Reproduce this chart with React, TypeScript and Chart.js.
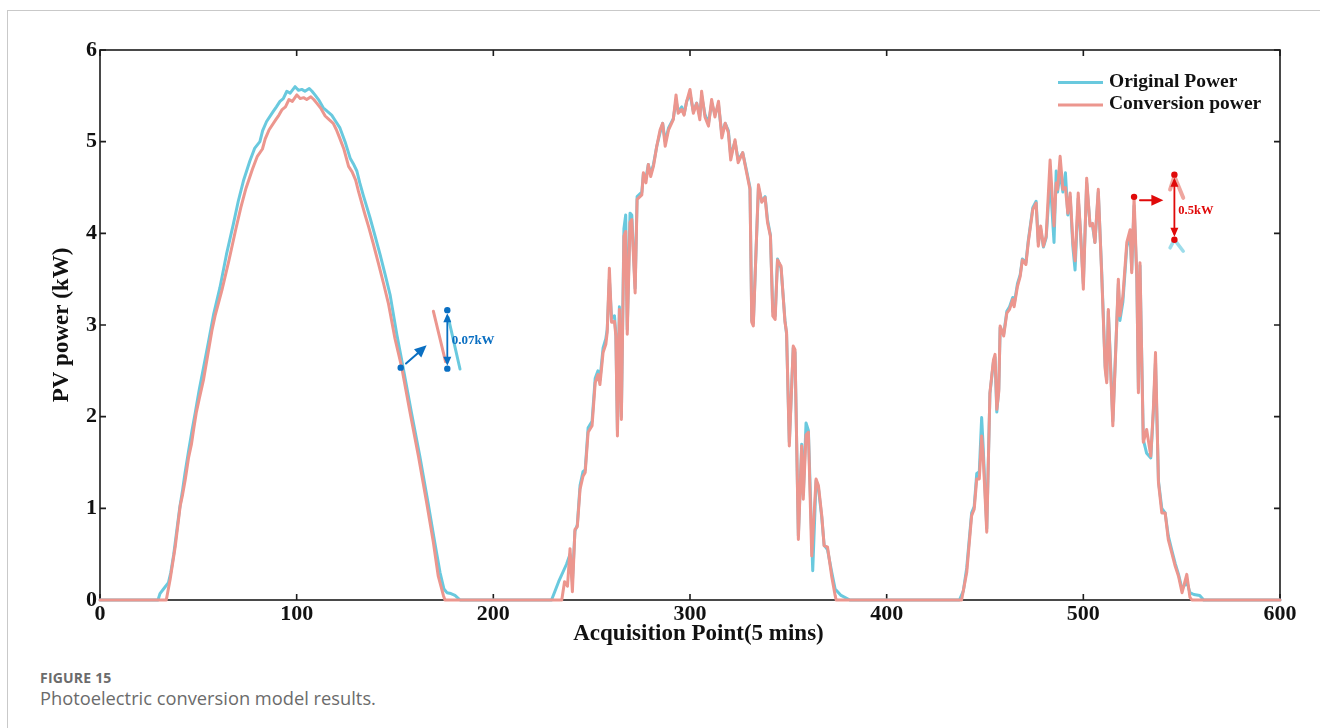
import React, { useEffect, useRef } from "react";
import { Chart, registerables } from "chart.js";

Chart.register(...registerables);

// ---------- data ----------
const xTickValues = [0, 100, 200, 300, 400, 500, 600];
const yTickValues = [0, 1, 2, 3, 4, 5, 6];

const originalX = [
  0, 29.5, 30.5, 32.3, 34.8, 36, 37.5, 39, 40.5, 42, 43.2, 45, 46.8, 48.5, 50.5, 52.5, 55.1, 57.8, 61, 64.3, 67.8, 70.3, 72.9, 76.2, 78.7, 81.3, 82.7, 84.7, 88.1, 89.7, 91.5, 93.2, 95, 96.7, 99.2, 100.9, 102.6, 104.2, 106.4, 107.8, 109.3, 111.4, 113.5, 115.6, 117.8, 119.9, 122, 124.6, 127.2, 128.8, 130.6, 132.1, 133.8, 135.5, 137.3, 139.5, 142.4, 145, 147.5, 150.9, 154.1, 158.4, 162.6, 166.8, 170.2, 172.9, 174.9, 176.4, 178.4, 180.5, 183.1,
  229.6, 233.2, 237.2, 239, 240.2, 241.5, 242.7, 244.1, 245.6, 246.7, 248.2, 250.2, 251.8, 253.2, 254.2, 255.8, 257.2, 257.9, 259, 260.1, 261.6, 262.3, 263.1, 264.1, 265.1, 266.4, 267.3, 268.1, 269.5, 270.4, 272.1, 273.1, 275.5, 276.3, 277.6, 278.8, 280, 281.4, 283.1, 284.8, 286.1, 287.4, 289.1, 291.5, 292.9, 294, 295.8, 297, 298.3, 300, 301.7, 303.4, 305, 305.9, 307.6, 309.4, 311, 312.7, 314.5, 316.2, 317.9, 319.5, 320.7, 322.9, 324.5, 326.8, 328.8, 330.5, 331.4, 332.2, 334.8, 336.5, 338.2, 339.4, 340.9, 342.1, 343.3, 344.5, 346.3, 348.3, 349.1, 350.5, 352.5, 353.4, 355.1, 356.8, 357.6, 359, 360.2, 362.4, 364.1, 365.3, 367, 368.2, 369.9, 372.1, 373.8, 376.8, 381.3,
  437, 439, 440.7, 443.2, 444.5, 445.8, 447.1, 448.3, 449, 450.9, 452.5, 454.3, 455.1, 456, 457, 457.7, 459.5, 461.1, 462.5, 464.1, 464.8, 466.5, 467.9, 469, 470.8, 472, 474.3, 476, 477.1, 478.3, 479.7, 481.1, 483.1, 485.1, 486.2, 486.9, 488.2, 489.6, 490.9, 492.1, 493.3, 494.7, 495.8, 497.4, 498.6, 500, 501.7, 503.4, 504.7, 505.9, 507.6, 509.3, 511.1, 511.9, 512.7, 513.8, 515, 516.3, 517.8, 518.6, 520.1, 522.1, 523.8, 524.6, 525.8, 527.2, 528, 528.8, 529.7, 530.5, 532.2, 534.3, 535.6, 536.7, 538.2, 539.9, 541.6, 543.2, 544.9, 546.7, 548.4, 550.2, 552.6, 554.2, 556.2, 559.2, 561.2, 600,
];
const originalY = [
  0, 0, 0.07, 0.12, 0.19, 0.3, 0.5, 0.75, 1.0, 1.2, 1.38, 1.62, 1.85, 2.05, 2.3, 2.52, 2.81, 3.12, 3.41, 3.77, 4.1, 4.35, 4.57, 4.79, 4.93, 5.0, 5.12, 5.22, 5.33, 5.38, 5.44, 5.47, 5.55, 5.53, 5.6, 5.56, 5.57, 5.55, 5.58, 5.55, 5.51, 5.45, 5.37, 5.33, 5.29, 5.22, 5.15, 5.0, 4.82, 4.76, 4.68, 4.55, 4.42, 4.3, 4.17, 4.0, 3.77, 3.55, 3.33, 2.9, 2.54, 2.04, 1.57, 1.06, 0.63, 0.3, 0.12, 0.08, 0.07, 0.05, 0,
  0, 0.2, 0.39, 0.5, 0.2, 0.75, 0.82, 1.25, 1.4, 1.42, 1.88, 1.95, 2.42, 2.5, 2.4, 2.75, 2.85, 2.95, 3.5, 3.08, 3.1, 2.9, 1.85, 3.2, 2.0, 4.05, 4.2, 2.95, 4.22, 4.2, 3.4, 4.4, 4.45, 4.65, 4.6, 4.75, 4.65, 4.75, 4.95, 5.1, 5.2, 5.0, 5.15, 5.25, 5.45, 5.33, 5.38, 5.3, 5.44, 5.52, 5.33, 5.42, 5.28, 5.5, 5.3, 5.2, 5.42, 5.3, 5.4, 5.08, 5.2, 5.12, 4.85, 5.0, 4.8, 4.88, 4.68, 4.5, 3.05, 3.02, 4.5, 4.35, 4.4, 4.15, 3.98, 3.15, 3.1, 3.72, 3.62, 3.05, 2.9, 1.72, 2.75, 2.7, 0.7, 1.7, 1.15, 1.93, 1.85, 0.32, 1.3, 1.22, 0.9, 0.6, 0.55, 0.3, 0.12, 0.05, 0,
  0, 0.1, 0.35, 0.95, 1.02, 1.38, 1.4, 1.99, 1.7, 0.78, 2.25, 2.6, 2.65, 2.05, 2.3, 2.97, 2.9, 3.15, 3.2, 3.3, 3.22, 3.45, 3.55, 3.72, 3.68, 3.92, 4.28, 4.35, 3.9, 4.05, 3.85, 3.95, 4.6, 3.9, 4.68, 4.45, 4.66, 4.45, 4.66, 4.2, 4.4, 3.85, 3.6, 4.38, 4.0, 3.45, 4.55, 4.1, 4.08, 3.9, 4.45, 3.6, 2.55, 2.4, 3.15, 2.6, 1.95, 2.65, 3.45, 3.05, 3.25, 3.85, 4.0, 3.6, 4.3, 3.5, 2.3, 3.65, 2.65, 1.75, 1.6, 1.55, 2.05, 2.6, 1.3, 1.0, 0.95, 0.7, 0.55, 0.4, 0.28, 0.12, 0.2, 0.08, 0.06, 0.05, 0, 0,
];

const conversionX = [
  0, 33.7, 35.7, 38.3, 39.5, 40.8, 42, 43.4, 45, 46.5, 47.6, 49, 50.5, 52.7, 55, 57, 58.5, 62, 65.5, 69.1, 71.6, 74.2, 77.5, 80, 82.6, 84, 86, 89.4, 91, 92.6, 94.3, 96.1, 97.8, 100.1, 101.8, 103.5, 105.1, 107.2, 108.7, 110.2, 112.4, 114.5, 116.5, 118.6, 120.2, 121.7, 124, 126.4, 128.2, 130, 131.4, 133.1, 134.8, 136.6, 138.8, 141.6, 144.2, 146.7, 150, 153.4, 157.7, 161.9, 166.1, 169.5, 172, 174.6, 175.4,
  229.2, 234.8, 236.2, 237.7, 239, 240.2, 241.5, 242.7, 244.1, 245.6, 246.7, 248.2, 250.2, 251.8, 253.2, 254.2, 255.8, 257.2, 257.9, 259, 260.1, 261.6, 262.3, 263.1, 264.1, 265.1, 266.4, 267.3, 268.1, 269.5, 270.4, 272.1, 273.1, 275.5, 276.3, 277.6, 278.8, 280, 281.4, 283.1, 284.8, 286.1, 287.4, 289.1, 291.5, 292.9, 294, 295.8, 297, 298.3, 300, 301.7, 303.4, 305, 305.9, 307.6, 309.4, 311, 312.7, 314.5, 316.2, 317.9, 319.5, 320.7, 322.9, 324.5, 326.8, 328.8, 330.5, 331.4, 332.2, 334.8, 336.5, 338.2, 339.4, 340.9, 342.1, 343.3, 344.5, 346.3, 348.3, 349.1, 350.5, 352.5, 353.4, 355.1, 356.8, 357.6, 359, 360.2, 361.9, 364.1, 365.3, 367, 368.2, 369.9, 372.1, 373.8, 374.3,
  438.1, 440.7, 443.2, 444.5, 445.8, 447.1, 448.3, 449, 450.9, 452.5, 454.3, 455.1, 456, 457, 457.7, 459.5, 461.1, 462.5, 464.1, 464.8, 466.5, 467.9, 469, 470.8, 472, 474.3, 476, 477.1, 478.3, 479.7, 481.1, 483.1, 485.1, 486.2, 486.9, 488.2, 489.6, 490.9, 492.1, 493.3, 494.7, 495.8, 497.4, 498.6, 500, 501.7, 503.4, 504.7, 505.9, 507.6, 509.3, 511.1, 511.9, 512.7, 513.8, 515, 516.3, 517.8, 518.6, 520.1, 522.1, 523.8, 524.6, 525.8, 527.2, 528, 528.8, 529.7, 530.5, 532.2, 534.3, 535.6, 536.7, 538.2, 539.9, 541.6, 543.2, 544.9, 546.7, 548.4, 550.2, 552.6, 554.2, 555.2, 600,
];
const conversionY = [
  0, 0, 0.23, 0.59, 0.8, 1.03, 1.15, 1.32, 1.55, 1.7, 1.86, 2.05, 2.2, 2.41, 2.7, 2.95, 3.1, 3.38, 3.7, 4.05, 4.28, 4.49, 4.7, 4.84, 4.92, 5.03, 5.13, 5.24, 5.29, 5.35, 5.38, 5.46, 5.44, 5.51, 5.47, 5.48, 5.46, 5.49, 5.46, 5.42, 5.36, 5.28, 5.24, 5.2, 5.13, 5.05, 4.92, 4.73, 4.67, 4.58, 4.46, 4.33, 4.2, 4.07, 3.9, 3.67, 3.45, 3.23, 2.85, 2.54, 2.04, 1.57, 1.06, 0.63, 0.26, 0.05, 0,
  0, 0, 0.2, 0.15, 0.56, 0.09, 0.77, 0.8, 1.21, 1.35, 1.39, 1.83, 1.9, 2.37, 2.46, 2.35, 2.7, 2.79, 2.92, 3.62, 3.03, 3.04, 2.88, 1.79, 3.17, 1.97, 3.97, 4.02, 2.9, 4.12, 4.15, 3.35, 4.37, 4.42, 4.66, 4.55, 4.75, 4.62, 4.73, 4.95, 5.13, 5.2, 4.95, 5.13, 5.24, 5.51, 5.31, 5.35, 5.29, 5.44, 5.57, 5.31, 5.42, 5.24, 5.55, 5.27, 5.17, 5.46, 5.27, 5.44, 5.04, 5.2, 5.1, 4.8, 5.02, 4.77, 4.88, 4.66, 4.48, 3.03, 2.99, 4.53, 4.34, 4.39, 4.12, 3.97, 3.1, 3.06, 3.71, 3.64, 3.03, 2.92, 1.68, 2.77, 2.73, 0.66, 1.68, 1.1, 1.8, 1.83, 0.48, 1.32, 1.25, 0.92, 0.59, 0.58, 0.25, 0.05, 0,
  0, 0.3, 0.92, 0.99, 1.32, 1.32, 1.79, 1.6, 0.74, 2.26, 2.62, 2.68, 2.08, 2.27, 2.99, 2.88, 3.13, 3.17, 3.28, 3.2, 3.42, 3.53, 3.71, 3.66, 3.9, 4.26, 4.33, 3.86, 4.08, 3.86, 3.97, 4.8, 4.08, 4.55, 4.48, 4.84, 4.48, 4.5, 4.22, 4.44, 3.9, 3.7, 4.44, 4.0, 3.39, 4.6, 4.08, 4.11, 3.9, 4.48, 3.57, 2.52, 2.37, 3.17, 2.55, 1.9, 2.62, 3.5, 3.1, 3.31, 3.9, 4.04, 3.57, 4.39, 3.53, 2.26, 3.68, 2.62, 1.72, 1.86, 1.57, 2.08, 2.7, 1.28, 0.95, 0.95, 0.66, 0.52, 0.37, 0.26, 0.08, 0.28, 0.03, 0, 0,
];

const seriesNames = ["Original Power", "Conversion power"];
const xAxisTitle = "Acquisition Point(5 mins)";
const yAxisTitle = "PV power (kW)";

// annotation marks, in data units
const blueNoteDot = [152.9, 2.535];
const blueNoteArrow = [[155.6, 2.58], [166.1, 2.778]];
const blueNoteRedSeg = [[169.5, 3.151], [175.7, 2.6]];
const blueNoteBlueSeg = [[177.1, 3.08], [183.05, 2.52]];
const blueNoteGap = [176.6, 3.162, 2.524];
const blueNoteLabel = ["0.07kW", 178.8, 2.825];

const redNoteDot = [525.8, 4.398];
const redNoteArrow = [[528.8, 4.36], [540.7, 4.36]];
const redNoteRedV = [[544.1, 4.478], [546.3, 4.623], [550.8, 4.387]];
const redNoteBlueV = [[544.1, 3.842], [546.3, 3.932], [550.8, 3.805]];
const redNoteGap = [546.3, 4.64, 3.93];
const redNoteLabel = ["0.5kW", 548.3, 4.25];

// ---------- styles ----------
const BLUE = "#69c9de";
const RED = "#ec968e";
const SERIF = '"Liberation Serif", "Times New Roman", serif';
const INK = "#111111";

function pt(chart: any, p: number[]) {
  return [chart.scales.x.getPixelForValue(p[0]), chart.scales.y.getPixelForValue(p[1])];
}

function arrowHead(ctx: CanvasRenderingContext2D, x0: number, y0: number, x1: number, y1: number, len: number, wid: number) {
  const a = Math.atan2(y1 - y0, x1 - x0);
  const c = Math.cos(a), s = Math.sin(a);
  ctx.beginPath();
  ctx.moveTo(x1, y1);
  ctx.lineTo(x1 - len * c + (wid / 2) * s, y1 - len * s - (wid / 2) * c);
  ctx.lineTo(x1 - len * c - (wid / 2) * s, y1 - len * s + (wid / 2) * c);
  ctx.closePath();
  ctx.fill();
}

function arrow(ctx: CanvasRenderingContext2D, p0: number[], p1: number[], color: string, len = 11, wid = 9) {
  const a = Math.atan2(p1[1] - p0[1], p1[0] - p0[0]);
  ctx.strokeStyle = color;
  ctx.fillStyle = color;
  ctx.lineWidth = 2;
  ctx.beginPath();
  ctx.moveTo(p0[0], p0[1]);
  ctx.lineTo(p1[0] - len * 0.7 * Math.cos(a), p1[1] - len * 0.7 * Math.sin(a));
  ctx.stroke();
  arrowHead(ctx, p0[0], p0[1], p1[0], p1[1], len, wid);
}

function dot(ctx: CanvasRenderingContext2D, p: number[], color: string, r = 3.2) {
  ctx.fillStyle = color;
  ctx.beginPath();
  ctx.arc(p[0], p[1], r, 0, Math.PI * 2);
  ctx.fill();
}

function gapArrow(ctx: CanvasRenderingContext2D, chart: any, gap: number[], color: string) {
  const top = pt(chart, [gap[0], gap[1]]);
  const bot = pt(chart, [gap[0], gap[2]]);
  ctx.strokeStyle = color;
  ctx.fillStyle = color;
  ctx.lineWidth = 1.8;
  ctx.beginPath();
  ctx.moveTo(top[0], top[1] + 6);
  ctx.lineTo(bot[0], bot[1] - 6);
  ctx.stroke();
  arrowHead(ctx, bot[0], bot[1], top[0], top[1] + 3, 9, 8);
  arrowHead(ctx, top[0], top[1], bot[0], bot[1] - 3, 9, 8);
  dot(ctx, top, color);
  dot(ctx, bot, color);
}

function polyline(ctx: CanvasRenderingContext2D, pts: number[][], color: string, width: number) {
  ctx.strokeStyle = color;
  ctx.lineWidth = width;
  ctx.lineCap = "round";
  ctx.lineJoin = "round";
  ctx.beginPath();
  pts.forEach((p, i) => (i === 0 ? ctx.moveTo(p[0], p[1]) : ctx.lineTo(p[0], p[1])));
  ctx.stroke();
}

const framePlugin = {
  id: "frameTicks",
  beforeDatasetsDraw(chart: any) {
    const { ctx, chartArea } = chart;
    const { left, right, top, bottom } = chartArea;
    const xs = chart.scales.x;
    const ys = chart.scales.y;
    ctx.save();
    ctx.strokeStyle = "#1c1c1c";
    ctx.lineWidth = 1.6;
    ctx.strokeRect(left, top, right - left, bottom - top);
    ctx.beginPath();
    const tl = 6;
    xTickValues.forEach((v) => {
      const px = xs.getPixelForValue(v);
      ctx.moveTo(px, bottom);
      ctx.lineTo(px, bottom - tl);
      ctx.moveTo(px, top);
      ctx.lineTo(px, top + tl);
    });
    yTickValues.forEach((v) => {
      const py = ys.getPixelForValue(v);
      ctx.moveTo(left, py);
      ctx.lineTo(left + tl, py);
      ctx.moveTo(right, py);
      ctx.lineTo(right - tl, py);
    });
    ctx.stroke();

    // x-axis title (centred as in the reference)
    ctx.fillStyle = INK;
    ctx.font = `bold 23px ${SERIF}`;
    ctx.textAlign = "center";
    ctx.textBaseline = "middle";
    ctx.fillText(xAxisTitle, 698.5, 634);
    ctx.restore();
  },
  afterDatasetsDraw(chart: any) {
    const { ctx } = chart;
    ctx.save();
    // legend (inside the plot, top right)
    const lx0 = 1058, lx1 = 1103;
    const rows = [
      { y: 82.5, color: BLUE, text: seriesNames[0] },
      { y: 105, color: RED, text: seriesNames[1] },
    ];
    ctx.font = `bold 19.5px ${SERIF}`;
    ctx.textBaseline = "middle";
    ctx.textAlign = "left";
    rows.forEach((r) => {
      ctx.strokeStyle = r.color;
      ctx.lineWidth = 3;
      ctx.beginPath();
      ctx.moveTo(lx0, r.y);
      ctx.lineTo(lx1, r.y);
      ctx.stroke();
      ctx.fillStyle = INK;
      ctx.fillText(r.text, 1109, r.y - 1);
    });

    // blue (0.07kW) note
    const bBlue = "#0a6fc2";
    polyline(ctx, blueNoteRedSeg.map((p) => pt(chart, p)), RED, 3);
    polyline(ctx, blueNoteBlueSeg.map((p) => pt(chart, p)), BLUE, 3);
    dot(ctx, pt(chart, blueNoteDot), bBlue);
    arrow(ctx, pt(chart, blueNoteArrow[0]), pt(chart, blueNoteArrow[1]), bBlue, 12, 11);
    gapArrow(ctx, chart, blueNoteGap, bBlue);
    ctx.fillStyle = bBlue;
    ctx.font = `bold 13px ${SERIF}`;
    ctx.textBaseline = "middle";
    ctx.textAlign = "left";
    const bl = pt(chart, [blueNoteLabel[1] as number, blueNoteLabel[2] as number]);
    ctx.fillText(blueNoteLabel[0] as string, bl[0], bl[1]);

    // red (0.5kW) note
    const rRed = "#e00a0a";
    polyline(ctx, redNoteRedV.map((p) => pt(chart, p)), "rgba(236,150,142,0.85)", 4);
    polyline(ctx, redNoteBlueV.map((p) => pt(chart, p)), "rgba(105,201,222,0.65)", 3.5);
    dot(ctx, pt(chart, redNoteDot), rRed);
    arrow(ctx, pt(chart, redNoteArrow[0]), pt(chart, redNoteArrow[1]), rRed, 12, 11);
    gapArrow(ctx, chart, redNoteGap, rRed);
    ctx.fillStyle = rRed;
    ctx.font = `bold 12.5px ${SERIF}`;
    const rl = pt(chart, [redNoteLabel[1] as number, redNoteLabel[2] as number]);
    ctx.fillText(redNoteLabel[0] as string, rl[0], rl[1]);
    ctx.restore();
  },
};

export default function App() {
  const canvasRef = useRef<HTMLCanvasElement | null>(null);

  useEffect(() => {
    document.body.style.overflow = "hidden";
    const canvas = canvasRef.current;
    if (!canvas) return;
    const tickFont = { family: SERIF, weight: "bold" as const, size: 22 };
    const titleFont = { family: SERIF, weight: "bold" as const, size: 23 };
    const chart = new Chart(canvas, {
      type: "line",
      data: {
        datasets: [
          {
            label: seriesNames[1],
            data: conversionX.map((x, i) => ({ x, y: conversionY[i] })),
            borderColor: RED,
            backgroundColor: RED,
            borderWidth: 3,
            pointRadius: 0,
            tension: 0,
            borderJoinStyle: "round",
            borderCapStyle: "round",
            clip: 5,
            order: 0,
          },
          {
            label: seriesNames[0],
            data: originalX.map((x, i) => ({ x, y: originalY[i] })),
            borderColor: BLUE,
            backgroundColor: BLUE,
            borderWidth: 3,
            pointRadius: 0,
            tension: 0,
            borderJoinStyle: "round",
            borderCapStyle: "round",
            clip: 5,
            order: 1,
          },
        ],
      },
      options: {
        responsive: false,
        animation: false,
        events: [],
        layout: { padding: { top: 50, right: 40, left: 0, bottom: 0 } },
        plugins: { legend: { display: false }, tooltip: { enabled: false } },
        scales: {
          x: {
            type: "linear",
            min: 0,
            max: 600,
            ticks: { stepSize: 100, color: INK, font: tickFont, padding: 1, maxRotation: 0, autoSkip: false },
            grid: { display: false, drawTicks: false },
            border: { display: false },
            title: { display: false, text: xAxisTitle },
            afterFit(scale: any) {
              scale.height = 128;
            },
          },
          y: {
            type: "linear",
            min: 0,
            max: 6,
            ticks: { stepSize: 1, color: INK, font: tickFont, padding: 3 },
            grid: { display: false, drawTicks: false },
            border: { display: false },
            title: { display: true, text: yAxisTitle, color: INK, font: titleFont, padding: { top: 48, bottom: 0 } },
            afterFit(scale: any) {
              scale.width = 100;
            },
          },
        },
      } as any,
      plugins: [framePlugin],
    });
    return () => chart.destroy();
  }, []);

  return (
    <div style={{ position: "absolute", left: 0, top: 0, width: 1320, height: 728, overflow: "hidden", background: "#fff" }}>
      <div
        style={{
          position: "absolute",
          left: 7,
          top: 10,
          width: 1313,
          height: 718,
          borderLeft: "1px solid #c9c9c9",
          borderTop: "1px solid #c9c9c9",
          boxSizing: "border-box",
        }}
      />
      <div style={{ position: "absolute", left: 40, top: 669, fontFamily: '"Open Sans", "Noto Sans", sans-serif', color: "#6b6b6b" }}>
        <div style={{ fontSize: 14, fontWeight: 700, lineHeight: "18px", letterSpacing: 0.2 }}>FIGURE 15</div>
        <div style={{ fontSize: 18.3, fontWeight: 400, lineHeight: "22px" }}>Photoelectric conversion model results.</div>
      </div>
      <canvas ref={canvasRef} width={1320} height={728} style={{ position: "absolute", left: 0, top: 0 }} />
    </div>
  );
}
